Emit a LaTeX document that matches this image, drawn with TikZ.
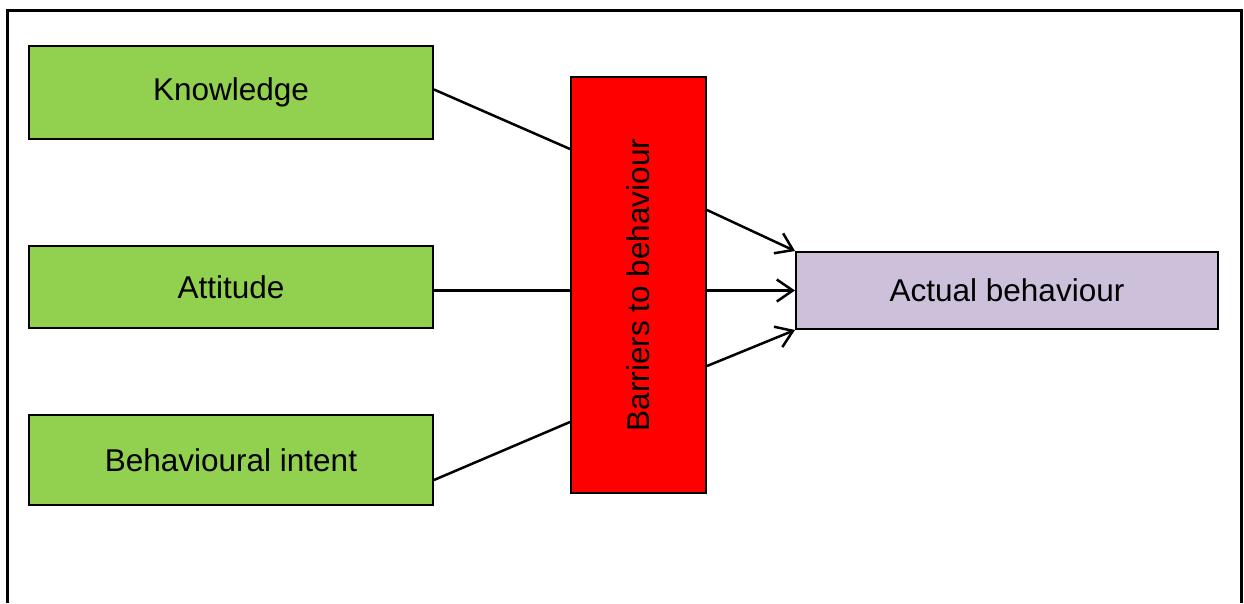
\documentclass[tikz,border=0pt]{standalone}
\usepackage{fontspec}
\setmainfont{Liberation Sans}
\usetikzlibrary{arrows.meta,calc}
\definecolor{boxgreen}{HTML}{92D050}
\definecolor{boxlilac}{HTML}{CCC0DA}
\begin{document}
\begin{tikzpicture}[x=1pt,y=-1pt,
  every node/.style={font=\fontsize{31.5}{36}\selectfont, inner sep=0pt},
  factor/.style={draw=black, line width=2pt, fill=boxgreen, minimum width=404pt},
  link/.style={draw=black, line width=2.5pt},
  arrowlink/.style={link, -{Straight Barb[length=16pt,width=22pt,line width=2.5pt]}}]
\useasboundingbox (0,0) rectangle (1244,603);
% frame, open at the bottom
\draw[line width=3pt] (7,603) -- (7,10.5) -- (1241.5,10.5) -- (1241.5,603);
% factors
\node[factor, minimum height=93pt] (k) at (231,92.5) {Knowledge};
\node[factor, minimum height=82pt] (a) at (231,287) {Attitude};
\node[factor, minimum height=90pt] (i) at (231,460) {Behavioural intent};
% barriers
\node[draw=black, line width=2pt, fill=red, minimum width=135pt, minimum height=416pt] (b) at (638.5,285) {};
\node[rotate=90] (bt) at (b.center) {Barriers to behaviour};
% outcome
\node[draw=black, line width=2pt, fill=boxlilac, minimum width=422pt, minimum height=77pt] (ab) at (1007,290.5) {Actual behaviour};
% connectors into the barriers
\draw[link] ($(k.east)+(0,-3)$) -- ($(b.north west)+(0,73)$);
\draw[link] (a.east |- ab.west) -- (b.west |- ab.west);
\draw[link] ($(i.east)+(0,20)$) -- ($(b.north west)+(0,346)$);
% arrows to the outcome
\draw[arrowlink] ($(b.north east)+(0,134)$) -- (ab.north west);
\draw[arrowlink] (b.east |- ab.west) -- (ab.west);
\draw[arrowlink] ($(b.north east)+(0,290)$) -- (ab.south west);
\end{tikzpicture}
\end{document}
